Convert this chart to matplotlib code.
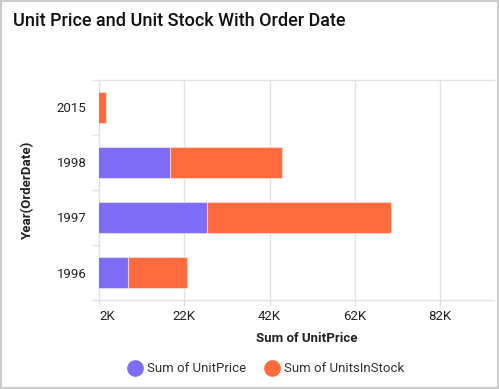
import matplotlib
matplotlib.use('Agg')
from matplotlib import pyplot as plt
from matplotlib.patches import Rectangle
from matplotlib.lines import Line2D

plt.rcParams['font.family'] = ['Roboto', 'DejaVu Sans']

# datos
years = ['1996', '1997', '1998', '2015']
unit_price = [8700, 27400, 18600, 0]
units_in_stock = [14000, 43000, 26200, 3600]
x_ticks = [2000, 22000, 42000, 62000, 82000]
x_labels = ['2K', '22K', '42K', '62K', '82K']

PURPLE = '#7f6cf6'
ORANGE = '#ff6b3f'
GRID = '#e3e3e3'

W, H = 499, 389
fig = plt.figure(figsize=(W / 100, H / 100), dpi=100)
fig.patch.set_facecolor('white')

# borde de la tarjeta
fig.add_artist(Rectangle((0, 0), 1, 1, transform=fig.transFigure, fill=False,
                         edgecolor='#cccccc', linewidth=3))

ax = fig.add_axes([99 / W, 1 - 300 / H, (494 - 99) / W, 220 / H])
pos = list(range(len(years)))
ax.barh(pos, unit_price, height=0.56, color=PURPLE, edgecolor='#ffffff70', linewidth=0.8, zorder=3)
ax.barh(pos, units_in_stock, left=unit_price, height=0.56, color=ORANGE,
        edgecolor='#ffffff70', linewidth=0.8, zorder=3)

ax.set_xlim(2000, 94600)
ax.set_ylim(-0.5, len(years) - 0.5)

ax.set_xticks(x_ticks)
ax.set_xticklabels(x_labels, fontsize=9.5, color='#222222')
ax.get_xticklabels()[0].set_horizontalalignment('left')
ax.tick_params(axis='x', length=4, width=1, color=GRID, pad=3)
ax.grid(axis='x', color=GRID, linewidth=1, zorder=0)

ax.set_yticks([p - 0.5 for p in pos] + [len(years) - 0.5])
ax.set_yticklabels([])
ax.set_yticks(pos, minor=True)
ax.set_yticklabels(years, minor=True, fontsize=9.5, color='#222222')
ax.tick_params(axis='y', which='major', length=5, width=1, color=GRID)
ax.tick_params(axis='y', which='minor', length=0, pad=9)

for lado in ['left', 'bottom', 'top']:
  ax.spines[lado].set_color(GRID)
  ax.spines[lado].set_linewidth(1)
ax.spines['right'].set_visible(False)

fig.text(13 / W, 1 - 21 / H, 'Unit Price and Unit Stock With Order Date',
         fontsize=13, fontweight='medium', color='#111111', va='center', ha='left')
fig.text(27 / W, 1 - 190 / H, 'Year(OrderDate)', rotation=90, fontsize=9.5,
         fontweight='bold', color='#222222', va='center', ha='center')
fig.text(307 / W, 1 - 338 / H, 'Sum of UnitPrice', fontsize=9.5,
         fontweight='bold', color='#222222', va='center', ha='center')

# leyenda
for cx, tx, color, texto in [(135, 147, PURPLE, 'Sum of UnitPrice'),
                             (272, 284, ORANGE, 'Sum of UnitsInStock')]:
  fig.add_artist(Line2D([cx / W], [1 - 368 / H], marker='o', markersize=11,
                        color=color, transform=fig.transFigure, linestyle='none'))
  fig.text(tx / W, 1 - 368 / H, texto, fontsize=9.5, color='#333333',
           va='center', ha='left')

fig.savefig('out.png', dpi=100)
